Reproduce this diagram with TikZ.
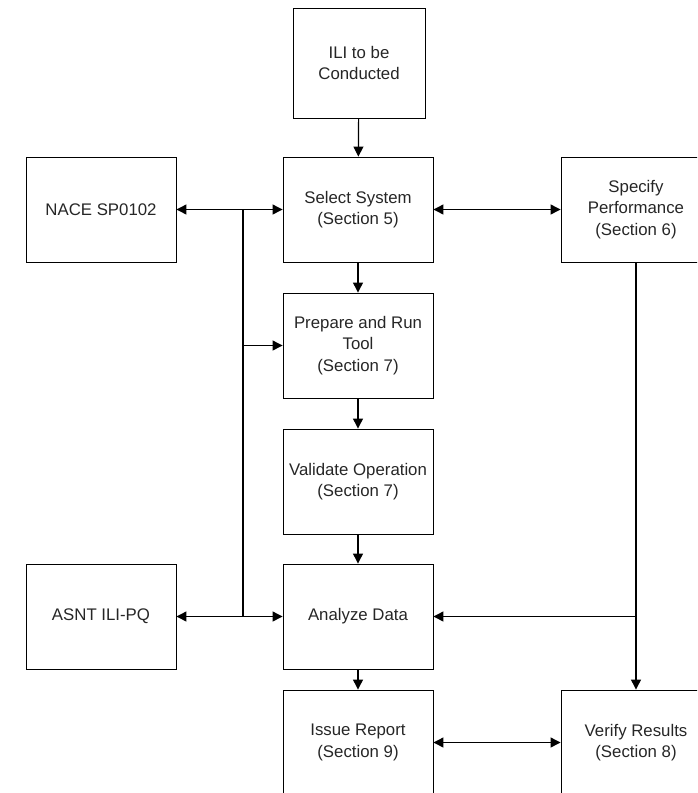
\documentclass[tikz,border=0pt]{standalone}
\usepackage{fontspec}
\setmainfont{Liberation Sans}
\usetikzlibrary{arrows.meta}

\begin{document}
\begin{tikzpicture}[x=1pt,y=-1pt,>={Triangle[length=10pt,width=10pt]},line width=1.2pt,
  every node/.style={font=\fontsize{16.8}{21.5}\selectfont,align=center,text=black!85},
  blk/.style={draw,line width=0.9pt,minimum width=150pt,minimum height=105pt,inner sep=2pt}]
  \clip (0,0) rectangle (697,793);
  % centre column
  \node[blk,minimum width=132pt,minimum height=110pt] (ili) at (359,63) {ILI to be\\Conducted};
  \node[blk] (sel) at (358,209.5) {Select System\\(Section 5)};
  \node[blk] (prep) at (358,345.5) {Prepare and Run\\Tool\\(Section 7)};
  \node[blk] (val) at (358,481.5) {Validate Operation\\(Section 7)};
  \node[blk] (ana) at (358,616.5) {Analyze Data};
  \node[blk] (iss) at (358,742.5) {Issue Report\\(Section 9)};
  % side boxes
  \node[blk] (nace) at (101,209.5) {NACE SP0102};
  \node[blk] (asnt) at (101,616.5) {ASNT ILI-PQ};
  \node[blk] (spec) at (636,209.5) {Specify\\Performance\\(Section 6)};
  \node[blk] (ver) at (636,742.5) {Verify Results\\(Section 8)};
  \coordinate (b1) at (243,209.5);
  \coordinate (b2) at (243,345.5);
  \coordinate (b3) at (243,616.5);
  \coordinate (r) at (636,616.5);
  \draw[->] (ili) -- (sel);
  \draw[->] (sel) -- (prep);
  \draw[->] (prep) -- (val);
  \draw[->] (val) -- (ana);
  \draw[->] (ana) -- (iss);
  \draw (b1) -- (b3);
  \draw[->] (b1) -- (nace);
  \draw[->] (b1) -- (sel);
  \draw[->] (b2) -- (prep);
  \draw[->] (b3) -- (asnt);
  \draw[->] (b3) -- (ana);
  \draw[<->] (sel) -- (spec);
  \draw[->] (spec) -- (ver);
  \draw[->] (r) -- (ana);
  \draw[<->] (iss) -- (ver);
\end{tikzpicture}
\end{document}
